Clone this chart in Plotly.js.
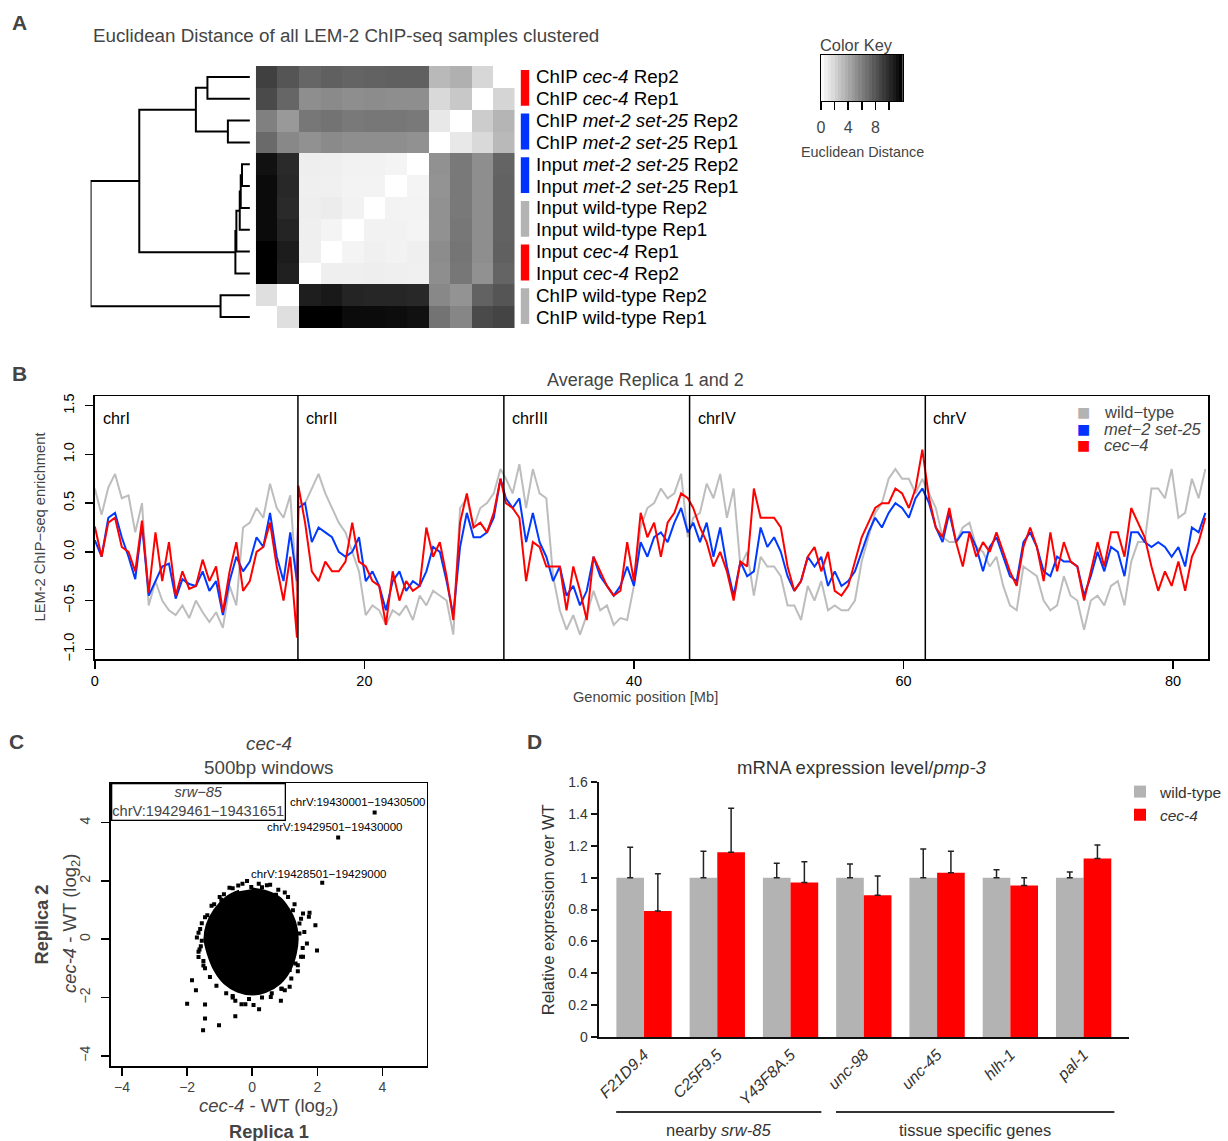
<!DOCTYPE html>
<html><head><meta charset="utf-8">
<script src="https://cdn.plot.ly/plotly-3.0.1.min.js"></script>
<style>html,body{margin:0;padding:0;background:#fff;overflow:hidden}#chart{width:1228px;height:1141px}</style>
</head><body><div id="chart"></div>
<script>
// ---------------- DATA ----------------
// Panel A: samples in row order (top to bottom); heatmap columns hold the same samples in reverse order
const sampleLabels = ['ChIP <i>cec-4</i> Rep2','ChIP <i>cec-4</i> Rep1','ChIP <i>met-2 set-25</i> Rep2','ChIP <i>met-2 set-25</i> Rep1',
  'Input <i>met-2 set-25</i> Rep2','Input <i>met-2 set-25</i> Rep1','Input wild-type Rep2','Input wild-type Rep1',
  'Input <i>cec-4</i> Rep1','Input <i>cec-4</i> Rep2','ChIP wild-type Rep2','ChIP wild-type Rep1'];
const sampleGroupColors = ['#ff0000','#ff0000','#0033ff','#0033ff','#0033ff','#0033ff','#b3b3b3','#b3b3b3','#ff0000','#ff0000','#b3b3b3','#b3b3b3'];
const distRow0  = [9.0, 8.0, 7.2, 7.5, 7.3, 7.4, 7.5, 7.5, 3.3, 3.7, 1.9, 0];
const distRow1  = [8.5, 7.2, 5.3, 5.5, 5.3, 5.4, 5.3, 5.3, 1.8, 2.6, 0, 2.0];
const distRow2  = [6.0, 4.8, 6.4, 6.6, 6.3, 6.4, 6.4, 6.3, 1.1, 0, 2.4, 3.5];
const distRow3  = [7.0, 5.6, 5.2, 5.5, 5.3, 5.3, 5.3, 5.2, 0, 1.1, 1.8, 3.3];
const distRow4  = [11.2, 10.0, 0.8, 0.75, 0.6, 0.6, 0.5, 0, 5.2, 6.3, 5.3, 7.3];
const distRow5  = [11.5, 10.1, 0.75, 0.7, 0.56, 0.56, 0, 0.5, 5.1, 6.3, 5.3, 7.4];
const distRow6  = [11.5, 10.0, 0.8, 0.9, 0.6, 0, 0.56, 0.56, 5.2, 6.3, 5.3, 7.4];
const distRow7  = [11.5, 10.3, 0.75, 0.5, 0, 0.6, 0.6, 0.5, 5.2, 6.4, 5.3, 7.4];
const distRow8  = [12.0, 10.7, 0.75, 0, 0.5, 0.7, 0.6, 0.75, 5.4, 6.5, 5.3, 7.5];
const distRow9  = [12.0, 10.5, 0, 0.75, 0.75, 0.8, 0.75, 0.7, 5.3, 6.4, 5.2, 7.3];
const distRow10 = [1.5, 0, 10.6, 10.8, 10.3, 10.2, 10.2, 10.1, 5.6, 5.1, 7.4, 8.0];
const distRow11 = [0, 1.5, 12.0, 12.0, 11.5, 11.5, 11.4, 11.2, 6.6, 5.7, 8.5, 8.8];
// hclust-style merges: negative = leaf (row index + 1), positive = earlier merge number
const dendroLeft   = [-5, 1, 2, 3, 4, -3, -11, -1, 8, 9, 10];
const dendroRight  = [-6, -7, -8, -9, -10, -4, -12, -2, 6, 5, 7];
const dendroHeight = [0.80, 0.93, 1.03, 1.37, 1.47, 2.23, 2.97, 4.30, 5.47, 11.2, 16.13];
const colorKeyValues = [0.25,0.75,1.25,1.75,2.25,2.75,3.25,3.75,4.25,4.75,5.25,5.75,6.25,6.75,7.25,7.75,8.25,8.75,9.25,9.75,10.25,10.75,11.25,11.75];
const colorKeyLabelled = [0, 4, 8];
const colorKeyMinor = [2, 6, 10];

// Panel B: chromosomes, windows every 0.5 Mb
const chrNames = ['chrI','chrII','chrIII','chrIV','chrV'];
const chrStarts = [0, 15.07, 30.35, 44.13, 61.62];
const chrEnds = [15.07, 30.35, 44.13, 61.62, 82.54];
const chrFirstWindow = [0, 15.1, 30.5, 44.4, 61.9];
const windowStep = 0.5;
const wt_chrI  = [0.65,0.38,0.66,0.80,0.55,0.58,0.20,0.50,-0.55,-0.30,-0.50,-0.60,-0.65,-0.55,-0.68,-0.50,-0.62,-0.72,-0.62,-0.78,-0.35,-0.55,0.25,0.30,0.45,0.35,0.70,0.45,0.35,0.58,-0.40];
const met_chrI = [0.12,-0.05,0.35,0.40,0.15,-0.05,-0.28,0.28,-0.45,-0.30,-0.15,-0.12,-0.48,-0.28,-0.33,-0.35,-0.20,-0.40,-0.30,-0.65,-0.30,-0.05,-0.20,-0.10,0.15,0.05,0.40,-0.05,-0.30,0.20,-0.30];
const cec_chrI = [0.26,-0.05,0.30,0.35,0.05,0.00,-0.20,0.32,-0.42,0.20,-0.30,0.10,-0.45,-0.20,-0.38,-0.35,-0.08,-0.30,-0.15,-0.62,-0.20,0.10,-0.40,-0.30,0.00,0.05,0.30,-0.15,-0.50,-0.05,-0.88];
const wt_chrII  = [0.50,0.50,0.65,0.80,0.60,0.45,0.30,0.20,0.00,-0.20,-0.65,-0.55,-0.60,-0.75,-0.60,-0.65,-0.55,-0.70,-0.45,-0.55,-0.40,-0.45,-0.50,-0.85,0.45,0.55,0.25,0.45,0.50,0.60,0.85];
const met_chrII = [0.45,0.50,0.10,0.25,0.20,0.15,0.00,-0.05,0.00,0.15,-0.30,-0.20,-0.35,-0.60,-0.30,-0.20,-0.40,-0.30,-0.35,-0.20,0.05,0.00,-0.30,-0.65,0.05,0.40,0.15,0.15,0.20,0.35,0.75];
const cec_chrII = [0.68,0.30,-0.20,-0.30,-0.10,-0.20,-0.20,-0.10,0.30,-0.10,-0.15,-0.30,-0.35,-0.75,-0.20,-0.50,-0.30,-0.40,-0.35,0.25,-0.05,0.10,-0.25,-0.70,0.30,0.60,0.25,0.30,0.20,0.40,0.75];
const wt_chrIII  = [0.75,0.60,0.90,0.45,0.85,0.60,0.55,-0.25,-0.60,-0.80,-0.65,-0.85,-0.65,-0.40,-0.60,-0.55,-0.75,-0.68,-0.70,-0.35,0.25,0.45,0.50,0.65,0.55,0.60,0.80,0.15];
const met_chrIII = [0.55,0.45,0.55,0.10,0.40,0.10,-0.05,-0.30,-0.15,-0.45,-0.35,-0.55,-0.40,-0.05,-0.25,-0.35,-0.45,-0.35,-0.15,-0.35,0.10,-0.05,0.15,0.20,0.10,0.30,0.45,0.20];
const cec_chrIII = [0.50,0.45,0.35,-0.30,0.10,0.05,-0.15,-0.15,-0.15,-0.60,-0.15,-0.40,-0.70,-0.05,-0.20,-0.35,-0.45,-0.40,0.10,-0.30,0.40,0.15,0.30,-0.05,0.30,0.40,0.60,0.55];
const wt_chrIV  = [0.35,0.40,0.70,0.55,0.80,0.35,0.65,-0.15,0.00,-0.45,-0.05,-0.15,-0.15,-0.25,-0.55,-0.55,-0.70,-0.35,-0.50,-0.30,-0.60,-0.55,-0.60,-0.60,-0.50,-0.10,0.15,0.40,0.50,0.75,0.85,0.75,0.75,0.60,0.75];
const met_chrIV = [0.30,0.10,0.30,-0.05,0.25,-0.15,-0.45,-0.10,-0.25,-0.20,0.25,0.05,0.15,0.00,-0.25,-0.40,-0.30,-0.05,-0.15,-0.05,-0.35,-0.20,-0.35,-0.30,-0.20,0.00,0.20,0.35,0.25,0.40,0.50,0.45,0.35,0.55,0.65];
const cec_chrIV = [0.45,0.25,0.10,-0.15,0.00,-0.20,-0.50,-0.10,-0.15,0.65,0.35,0.35,0.35,0.25,-0.15,-0.40,-0.30,-0.05,0.05,-0.20,0.00,-0.40,-0.45,-0.35,-0.10,0.15,0.30,0.45,0.50,0.50,0.65,0.60,0.45,0.65,1.05];
const wt_chrV  = [0.60,0.45,0.15,0.10,0.10,0.25,0.30,0.05,0.00,-0.15,-0.05,-0.35,-0.55,-0.60,-0.15,-0.20,-0.25,-0.50,-0.60,-0.55,-0.25,-0.45,-0.50,-0.80,-0.50,-0.45,-0.55,-0.35,-0.30,-0.55,-0.10,0.10,0.10,0.65,0.65,0.55,0.85,0.35,0.40,0.75,0.55,0.85];
const met_chrV = [0.50,0.25,0.10,0.40,0.10,0.20,0.20,0.05,-0.20,0.05,0.15,-0.05,-0.25,-0.30,0.10,0.20,0.05,-0.20,-0.25,-0.05,-0.10,-0.10,-0.15,-0.45,-0.25,0.00,-0.20,0.05,0.00,-0.25,0.20,0.20,0.10,0.05,0.10,0.05,-0.05,0.05,-0.15,0.25,0.20,0.40];
const cec_chrV = [0.55,0.25,0.15,0.45,0.10,-0.15,0.20,-0.05,0.10,0.00,0.20,0.00,-0.20,-0.35,0.05,0.25,0.05,-0.30,0.20,-0.20,0.10,-0.10,-0.15,-0.50,-0.20,0.10,-0.15,0.20,0.20,-0.05,0.45,0.30,0.15,-0.15,-0.40,-0.20,-0.35,-0.10,-0.40,-0.05,0.10,0.35];

// Panel C: outline of the dense core of the 500bp-window cloud + individual windows at its fringe
const cloudCoreX = [0.0,0.45,0.85,1.1,1.3,1.38,1.32,1.15,0.85,0.4,0.0,-0.45,-0.85,-1.15,-1.35,-1.45,-1.38,-1.15,-0.8,-0.4];
const cloudCoreY = [1.72,1.62,1.4,1.05,0.6,0.05,-0.5,-1.05,-1.5,-1.8,-1.88,-1.78,-1.5,-1.05,-0.5,0.0,0.5,1.0,1.42,1.65];
const windowX = [3.76,2.64,2.15,1.99,1.94,1.76,1.74,1.56,1.45,1.68,1.56,1.40,1.15,1.0,0.88,0.57,0.21,0.04,-0.21,-0.33,-0.52,-0.52,-1.02,-1.45,-1.45,-1.51,-2.0,-1.85,-1.73,-1.65,-1.65,-1.70,-1.65,-1.58,-1.38,-1.17,-0.87,-0.70,-0.43,-0.16,-0.03,0.55,1.0,0.73,1.25,1.33,1.15,0.3,-0.6,1.45,-1.5,0.9,-0.95,
  -1.6,-1.55,-1.62,-1.5,-1.45,-1.3,-1.1,-0.8,-0.6,-0.1,0.3,0.6,0.9,1.2,1.4,1.5,1.55,1.6,1.5,1.3,1.1,0.8,0.45,0.2,-0.3,-0.6,-1.0,-1.25,-1.45,-1.55];
const windowY = [4.35,3.49,1.94,-0.39,0.48,0.91,0.77,0.88,0.54,-0.15,-0.6,-0.89,-1.63,-1.75,-2.11,-1.98,-2.4,-2.26,-2.23,-2.23,-2.11,-2.64,-2.95,-2.24,-2.72,-3.12,-2.21,-1.41,-1.75,-0.61,-0.43,0.06,0.22,-0.24,0.82,1.2,1.54,1.77,1.84,2.0,1.79,1.87,1.6,1.53,0.99,-0.83,-1.06,1.78,-1.95,0.2,-0.9,-1.7,1.35,
  0.35,-0.05,-0.35,-0.75,-1.0,-1.3,-1.6,-1.85,-2.0,-2.05,-2.0,-1.85,-1.7,-1.35,-1.1,-0.6,-0.3,0.25,0.7,1.2,1.45,1.7,1.85,1.9,1.9,1.75,1.45,1.15,0.75,0.55];
const windowLabels = ['chrV:19430001−19430500','chrV:19429501−19430000','chrV:19428501−19429000'];

// Panel D
const genes = ['F21D9.4','C25F9.5','Y43F8A.5','unc-98','unc-45','hlh-1','pal-1'];
const geneGroup = ['nearby','nearby','nearby','tissue','tissue','tissue','tissue'];
const wtExpr = [1,1,1,1,1,1,1];
const wtErr  = [0.19,0.165,0.09,0.085,0.18,0.05,0.035];
const cecExpr = [0.79,1.16,0.97,0.89,1.03,0.95,1.12];
const cecErr  = [0.235,0.275,0.13,0.12,0.135,0.05,0.085];

// ---------------- BUILD ----------------
const W = 1228, H = 1141;
const px = v => v / W, py = v => 1 - v / H;
const FONT = 'Liberation Sans, Arial, Helvetica, sans-serif';
const traces = [], annotations = [], shapes = [];
function ann(text, x, y, o) {
  annotations.push(Object.assign({text, x: px(x), y: py(y), xref: 'paper', yref: 'paper', showarrow: false,
    xanchor: 'center', yanchor: 'middle', font: {family: FONT, size: 16, color: '#000'}}, o || {}));
}
const distMatrix = [distRow0,distRow1,distRow2,distRow3,distRow4,distRow5,distRow6,distRow7,distRow8,distRow9,distRow10,distRow11];
const idx = sampleLabels.map((_, i) => i);
traces.push({type: 'heatmap', z: distMatrix, x: idx, y: idx, xaxis: 'x', yaxis: 'y',
  colorscale: [[0, '#ffffff'], [1, '#000000']], zmin: 0, zmax: 12, showscale: false, hoverinfo: 'skip'});
function node(id) {
  if (id < 0) return {y: -id - 1, h: 0};
  const k = id - 1;
  const a = node(dendroLeft[k]), b = node(dendroRight[k]);
  return {y: (a.y + b.y) / 2, h: dendroHeight[k]};
}
const dx = [], dy = [];
dendroHeight.forEach((h, k) => {
  const a = node(dendroLeft[k]), b = node(dendroRight[k]);
  dx.push(a.h, h, h, b.h, null); dy.push(a.y, a.y, b.y, b.y, null);
});
traces.push({type: 'scatter', mode: 'lines', x: dx, y: dy, xaxis: 'x2', yaxis: 'y',
  line: {color: '#000', width: 2}, hoverinfo: 'skip', showlegend: false});
const pairY = [], pairC = [];
for (let i = 0; i < sampleGroupColors.length; i += 2) { pairY.push(i + 0.5); pairC.push(sampleGroupColors[i]); }
traces.push({type: 'bar', orientation: 'h', y: pairY, x: pairY.map(() => 1), width: 1.64, base: 0,
  marker: {color: pairC, line: {width: 0}}, xaxis: 'x3', yaxis: 'y', hoverinfo: 'skip', showlegend: false});
sampleLabels.forEach((t, i) => annotations.push({text: t, x: px(541), xref: 'paper', y: i, yref: 'y', showarrow: false,
  xanchor: 'left', yanchor: 'middle', font: {family: FONT, size: 18.8, color: '#000'}}));
traces.push({type: 'heatmap', z: [colorKeyValues], x: colorKeyValues, y: [0], xaxis: 'x4', yaxis: 'y4',
  colorscale: [[0, '#ffffff'], [1, '#000000']], zmin: 0, zmax: 12, showscale: false, hoverinfo: 'skip'});

const chrWt = [wt_chrI, wt_chrII, wt_chrIII, wt_chrIV, wt_chrV];
const chrMet = [met_chrI, met_chrII, met_chrIII, met_chrIV, met_chrV];
const chrCec = [cec_chrI, cec_chrII, cec_chrIII, cec_chrIV, cec_chrV];
function flat(arrs) {
  const xs = [], ys = [];
  arrs.forEach((a, k) => a.forEach((v, i) => { xs.push(chrFirstWindow[k] + i * windowStep); ys.push(v); }));
  return {xs, ys};
}
[[chrWt, '#bdbdbd'], [chrMet, '#0039ff'], [chrCec, '#ff0000']].forEach(([arrs, col]) => {
  const f = flat(arrs);
  traces.push({type: 'scatter', mode: 'lines', x: f.xs, y: f.ys, xaxis: 'x5', yaxis: 'y5',
    line: {color: col, width: 2}, hoverinfo: 'skip', showlegend: false});
});
chrEnds.slice(0, -1).forEach(e => shapes.push({type: 'line', xref: 'x5', yref: 'y5 domain', x0: e, x1: e, y0: 0, y1: 1,
  line: {color: '#000', width: 1.5}}));
chrNames.forEach((n, k) => annotations.push({text: n, x: chrStarts[k] + 0.45, xref: 'x5', y: py(418), yref: 'paper',
  showarrow: false, xanchor: 'left', yanchor: 'middle', font: {family: FONT, size: 16.2, color: '#000'}}));

traces.push({type: 'scatter', mode: 'lines', x: cloudCoreX, y: cloudCoreY, fill: 'toself', fillcolor: '#000',
  line: {color: '#000', width: 3, shape: 'spline'}, xaxis: 'x6', yaxis: 'y6', hoverinfo: 'skip', showlegend: false});
traces.push({type: 'scatter', mode: 'markers', x: windowX, y: windowY, xaxis: 'x6', yaxis: 'y6',
  marker: {symbol: 'square', size: 4, color: '#000'}, hoverinfo: 'skip', showlegend: false});
const labelOffsets = [[-0.52, 0.37], [-0.1, 0.35], [-0.11, 0.31]];
windowLabels.forEach((t, i) => annotations.push({text: t, x: windowX[i] + labelOffsets[i][0], y: windowY[i] + labelOffsets[i][1],
  xref: 'x6', yref: 'y6', showarrow: false, font: {family: FONT, size: 11.5, color: '#000'}}));

traces.push({type: 'bar', name: 'wild-type', x: genes.map((_, i) => i), y: wtExpr, xaxis: 'x7', yaxis: 'y7',
  marker: {color: '#b3b3b3', line: {width: 0}},
  error_y: {type: 'data', symmetric: false, array: wtErr, arrayminus: wtErr.map(() => 0), color: '#222', thickness: 1.5, width: 3},
  hoverinfo: 'skip'});
traces.push({type: 'bar', name: '<i>cec-4</i>', x: genes.map((_, i) => i), y: cecExpr, xaxis: 'x7', yaxis: 'y7',
  marker: {color: '#ff0000', line: {width: 0}},
  error_y: {type: 'data', symmetric: false, array: cecErr, arrayminus: cecErr.map(() => 0), color: '#222', thickness: 1.5, width: 3},
  hoverinfo: 'skip'});
const groupNames = {nearby: 'nearby <i>srw-85</i>', tissue: 'tissue specific genes'};
Object.keys(groupNames).forEach(g => {
  const ids = geneGroup.map((v, i) => v === g ? i : null).filter(v => v !== null);
  const a = Math.min(...ids) - 0.38, b = Math.max(...ids) + 0.42;
  shapes.push({type: 'line', xref: 'x7', yref: 'paper', x0: a, x1: b, y0: py(1112), y1: py(1112), line: {color: '#333', width: 2}});
  annotations.push({text: groupNames[g], x: (a + b) / 2, xref: 'x7', y: py(1130), yref: 'paper', showarrow: false,
    xanchor: 'center', yanchor: 'middle', font: {family: FONT, size: 16.5, color: '#333'}});
});

ann('<b>A</b>', 20, 22, {font: {family: FONT, size: 21}});
ann('<b>B</b>', 20, 373, {font: {family: FONT, size: 21}});
ann('<b>C</b>', 17, 741, {font: {family: FONT, size: 21}});
ann('<b>D</b>', 541, 741, {font: {family: FONT, size: 21}});
ann('Euclidean Distance of all LEM-2 ChIP-seq samples clustered', 92, 36, {xanchor: 'left', font: {family: FONT, size: 18.8}});
ann('Color Key', 867, 45, {font: {family: FONT, size: 16.4}});
ann('Euclidean Distance', 873, 152, {font: {family: FONT, size: 14.4}});
ann('Average Replica 1 and 2', 653, 380, {font: {family: FONT, size: 18}});
ann('LEM-2 ChIP−seq enrichment', 40, 527, {textangle: -90, font: {family: FONT, size: 14.7}});
ann('Genomic position [Mb]', 653, 697, {font: {family: FONT, size: 14.6}});
[['wild−type', '#b3b3b3'], ['<i>met−2 set-25</i>', '#0033ff'], ['<i>cec−4</i>', '#ff0000']].forEach(([t, c], i) => {
  const y = 412 + i * 16.6;
  ann('■', 1097, y, {font: {family: 'DejaVu Sans', size: 14, color: c}});
  ann(t, 1116, y, {xanchor: 'left', font: {family: FONT, size: 16.5}});
});
ann('<i>cec-4</i>', 272, 743, {font: {family: FONT, size: 18.8}});
ann('500bp windows', 272, 767, {font: {family: FONT, size: 18.8}});
ann('<i>srw−85</i><br>chrV:19429461−19431651', 200.5, 801.5, {font: {family: FONT, size: 14.6}, bordercolor: '#000', borderwidth: 1.3, borderpad: 0});
ann('<i>cec-4</i> - WT (log<sub>2</sub>)', 272, 1107, {font: {family: FONT, size: 18.5}});
ann('<b>Replica 1</b>', 272, 1132, {font: {family: FONT, size: 18.2}});
ann('<i>cec-4</i> - WT (log<sub>2</sub>)', 72, 924, {textangle: -90, font: {family: FONT, size: 18.5}});
ann('<b>Replica 2</b>', 43, 924, {textangle: -90, font: {family: FONT, size: 18.2}});
ann('mRNA expression level/<i>pmp-3</i>', 873, 767, {font: {family: FONT, size: 18.5, color: '#333'}});
ann('Relative expression over WT', 555, 910, {textangle: -90, font: {family: FONT, size: 16.5, color: '#333'}});

const hidden = {visible: false, fixedrange: true};
const boxAxis = {showline: true, mirror: true, linecolor: '#000', linewidth: 1.5, ticks: 'outside', ticklen: 8, tickwidth: 1.5,
  tickcolor: '#000', showgrid: false, zeroline: false, tickfont: {family: FONT, size: 14.5, color: '#000'}, fixedrange: true};
const layout = {
  width: W, height: H, autosize: false, margin: {l: 0, r: 0, t: 0, b: 0, pad: 0}, paper_bgcolor: '#fff', plot_bgcolor: 'rgba(0,0,0,0)',
  font: {family: FONT}, barmode: 'group', bargap: 0.245, bargroupgap: 0,
  showlegend: true,
  legend: {x: px(1134), y: py(775), xanchor: 'left', yanchor: 'top', bgcolor: 'rgba(0,0,0,0)', itemwidth: 30,
    font: {family: FONT, size: 15.5, color: '#333'}, tracegroupgap: 0},
  xaxis: Object.assign({domain: [px(259), px(521)], range: [-0.5, 11.5], anchor: 'y'}, hidden),
  yaxis: Object.assign({domain: [py(328), py(66)], range: [11.5, -0.5], anchor: 'x'}, hidden),
  xaxis2: Object.assign({domain: [px(91.7), px(253)], range: [16.13, 0], anchor: 'y'}, hidden),
  xaxis3: Object.assign({domain: [px(527), px(536)], range: [0, 1], anchor: 'y'}, hidden),
  xaxis4: Object.assign({}, boxAxis, {domain: [px(831), px(914)], range: [0, 12], anchor: 'y4', linewidth: 1,
    tickvals: colorKeyLabelled, ticklen: 8, tickfont: {family: FONT, size: 16}, ticklabelstandoff: 4,
    minor: {tickvals: colorKeyMinor, ticks: 'outside', ticklen: 8, tickwidth: 1.5, tickcolor: '#000', showgrid: false}}),
  yaxis4: Object.assign({}, boxAxis, {domain: [py(101), py(55)], range: [-0.5, 0.5], anchor: 'x4', linewidth: 1, ticks: '', showticklabels: false}),
  xaxis5: Object.assign({}, boxAxis, {domain: [px(96), px(1223)], range: [0, 82.6], anchor: 'y5', tickvals: [0, 20, 40, 60, 80]}),
  yaxis5: Object.assign({}, boxAxis, {domain: [py(659), py(396)], range: [-1.1, 1.6], anchor: 'x5',
    tickvals: [-1, -0.5, 0, 0.5, 1, 1.5], ticktext: ['−1.0', '−0.5', '0.0', '0.5', '1.0', '1.5'], tickangle: -90, ticklabelstandoff: 6}),
  xaxis6: Object.assign({}, boxAxis, {domain: [px(112), px(432)], range: [-4.35, 5.36], anchor: 'y6',
    tickvals: [-4, -2, 0, 2, 4], ticktext: ['−4', '−2', '0', '2', '4'], tickfont: {family: FONT, size: 14}}),
  yaxis6: Object.assign({}, boxAxis, {domain: [py(1066), py(783)], range: [-4.35, 5.36], anchor: 'x6',
    tickvals: [-4, -2, 0, 2, 4], ticktext: ['−4', '−2', '0', '2', '4'], tickangle: -90, tickfont: {family: FONT, size: 14}, ticklabelstandoff: 6}),
  xaxis7: {domain: [px(606), px(1143)], range: [-0.62, 6.62], anchor: 'y7', showline: true, linecolor: '#111', linewidth: 2,
    ticks: '', tickvals: genes.map((_, i) => i), ticktext: genes.map(g => '<i>' + g + '</i>'), tickangle: -45,
    tickfont: {family: FONT, size: 16, color: '#333'}, showgrid: false, zeroline: false, fixedrange: true},
  yaxis7: {domain: [py(1037), py(782)], range: [0, 1.6], anchor: 'x7', showline: true, linecolor: '#111', linewidth: 2,
    ticks: 'outside', ticklen: 6, tickwidth: 2, tickcolor: '#111', dtick: 0.2, tickfont: {family: FONT, size: 14, color: '#333'},
    showgrid: false, zeroline: false, fixedrange: true},
  annotations, shapes
};
Plotly.newPlot('chart', traces, layout, {staticPlot: true, displayModeBar: false});
</script></body></html>
